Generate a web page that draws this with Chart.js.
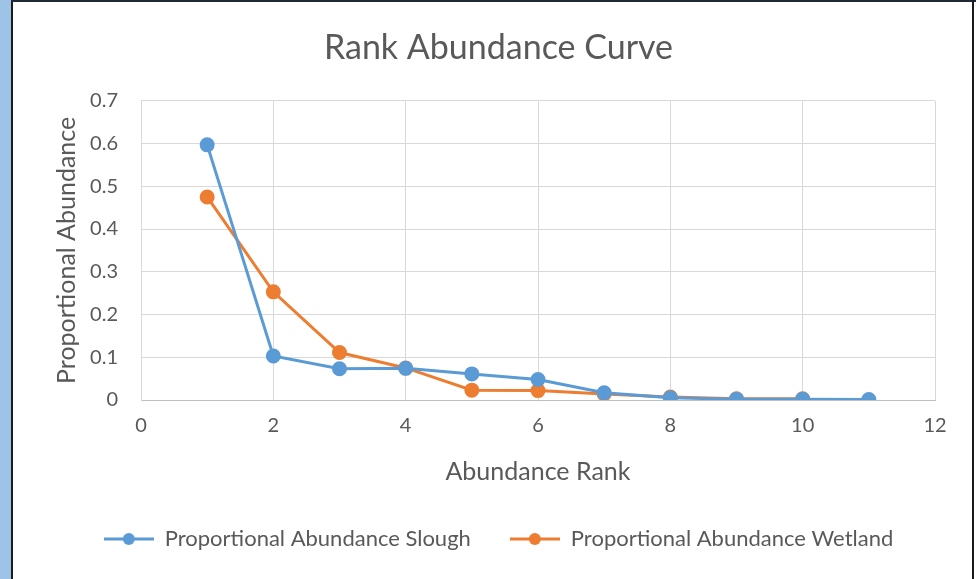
<!DOCTYPE html>
<html>
<head>
<meta charset="utf-8">
<script src="https://cdn.jsdelivr.net/npm/chart.js@4.4.0/dist/chart.umd.min.js"></script>
<style>
  html, body { margin: 0; padding: 0; }
  body { width: 976px; height: 579px; background: #ffffff; position: relative; overflow: hidden; }
  #leftStrip { position: absolute; left: 0; top: 0; width: 11px; height: 579px; background: #9dc3e6; }
  #leftLine { position: absolute; left: 11px; top: 0; width: 2px; height: 579px; background: #1a1a1a; }
  #topLine { position: absolute; left: 11px; top: 0; width: 965px; height: 2px; background: #1f2a36; }
  #rightLine { position: absolute; left: 972px; top: 0; width: 2px; height: 579px; background: #1a1a1a; }
  #wrap { position: absolute; left: 13px; top: 2px; width: 959px; height: 577px; }
</style>
</head>
<body>
<div id="leftStrip"></div>
<div id="leftLine"></div>
<div id="topLine"></div>
<div id="rightLine"></div>
<div id="wrap"><canvas id="myChart"></canvas></div>
<script>

const ranks = [1, 2, 3, 4, 5, 6, 7, 8, 9, 10, 11]
const slough = [0.597, 0.103, 0.073, 0.074, 0.061, 0.048, 0.017, 0.005, 0.002, 0.002, 0.001]
const wetland = [0.475, 0.253, 0.111, 0.075, 0.023, 0.022, 0.014, 0.007, 0.003, 0.003]

const blue = '#5b9bd5'
const orange = '#ed7d31'
const grey = '#595959'
const fontName = 'Lato, "Open Sans", sans-serif'

function toPoints(values) {
    return values.map(function (v, i) { return { x: ranks[i], y: v } })
}

// little line-with-dot marker for the legend
function legendMark(color) {
    const c = document.createElement('canvas')
    c.width = 50
    c.height = 14
    const g = c.getContext('2d')
    g.strokeStyle = color
    g.lineWidth = 3
    g.beginPath()
    g.moveTo(0, 7)
    g.lineTo(50, 7)
    g.stroke()
    g.fillStyle = color
    g.beginPath()
    g.arc(25, 7, 6, 0, Math.PI * 2)
    g.fill()
    return c
}
const marks = [legendMark(blue), legendMark(orange)]

const data = {
    datasets: [{
        label: 'Proportional Abundance Slough',
        data: toPoints(slough),
        borderColor: blue,
        backgroundColor: blue,
        borderWidth: 3,
        pointRadius: 6,
        pointHoverRadius: 6
    }, {
        label: 'Proportional Abundance Wetland',
        data: toPoints(wetland),
        borderColor: orange,
        backgroundColor: orange,
        borderWidth: 3,
        pointRadius: 6,
        pointHoverRadius: 6
    }]
}

const config = {
    type: 'line',
    data: data,
    options: {
        responsive: true,
        maintainAspectRatio: false,
        animation: false,
        layout: { padding: { left: 12, right: 0, top: 0, bottom: 19 } },
        elements: { point: { pointStyle: 'circle' }, line: { tension: 0 } },
        plugins: {
            title: {
                display: true,
                text: 'Rank Abundance Curve',
                color: grey,
                font: { family: fontName, size: 34, weight: 'normal' },
                padding: { top: 26, bottom: 32 }
            },
            legend: {
                position: 'bottom',
                labels: {
                    color: grey,
                    font: { family: fontName, size: 22 },
                    usePointStyle: true,
                    pointStyleWidth: 50,
                    padding: 39,
                    generateLabels: function (chart) {
                        return chart.data.datasets.map(function (ds, i) {
                            return {
                                text: ds.label,
                                fillStyle: ds.borderColor,
                                strokeStyle: ds.borderColor,
                                fontColor: grey,
                                pointStyle: marks[i],
                                datasetIndex: i,
                                lineWidth: 0
                            }
                        })
                    }
                }
            },
            tooltip: { enabled: false }
        },
        scales: {
            x: {
                type: 'linear',
                min: 0,
                max: 12,
                ticks: {
                    stepSize: 2,
                    color: grey,
                    padding: 14,
                    font: { family: fontName, size: 20 }
                },
                grid: { color: '#d9d9d9', drawTicks: false },
                border: { color: '#bfbfbf' },
                title: {
                    display: true,
                    text: 'Abundance Rank',
                    color: grey,
                    font: { family: fontName, size: 25 },
                    padding: { top: 5, bottom: 2 }
                }
            },
            y: {
                min: 0,
                max: 0.7,
                ticks: {
                    stepSize: 0.1,
                    color: grey,
                    padding: 23,
                    font: { family: fontName, size: 20 },
                    callback: function (v) { return String(Number(v.toFixed(1))) }
                },
                grid: { color: '#d9d9d9', drawTicks: false },
                border: { color: '#d9d9d9' },
                title: {
                    display: true,
                    text: 'Proportional Abundance',
                    color: grey,
                    font: { family: fontName, size: 25 },
                    padding: { top: 27, bottom: 0 }
                },
                afterFit: function (scale) { scale.width = 116 }
            },
            // empty right-hand axis, only keeps room on the right
            spare: {
                type: 'linear',
                position: 'right',
                display: true,
                ticks: { display: false },
                grid: { display: false },
                border: { display: false },
                afterFit: function (scale) { scale.width = 37 }
            }
        }
    }
}

const myChart = new Chart(
    document.getElementById('myChart'),
    config
)
</script>
</body>
</html>
